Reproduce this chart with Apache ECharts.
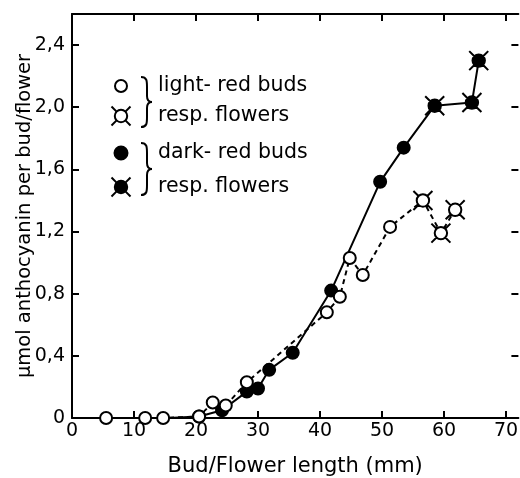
<!DOCTYPE html>
<html>
<head>
<meta charset="utf-8">
<script src="https://cdn.jsdelivr.net/npm/echarts@6/dist/echarts.min.js"></script>
<style>
html,body{margin:0;padding:0;background:#fff;}
#chart{width:520px;height:478px;}
</style>
</head>
<body>
<div id="chart"></div>
<script>
// ---- data ----
const xTickValues = [0, 10, 20, 30, 40, 50, 60, 70];
const yTickValues = [0, 0.4, 0.8, 1.2, 1.6, 2.0, 2.4];
const yTickLabels = ['0', '0,4', '0,8', '1,2', '1,6', '2,0', '2,4'];

const lightLength = [5.5, 11.8, 14.7, 20.5, 22.7, 24.8, 28.2, 41.1, 43.2, 44.8, 46.9, 51.3, 56.6, 59.5, 61.8];
const lightAnth   = [0, 0, 0, 0.01, 0.10, 0.08, 0.23, 0.68, 0.78, 1.03, 0.92, 1.23, 1.40, 1.19, 1.34];
const lightStage  = ['bud','bud','bud','bud','bud','bud','bud','bud','bud','bud','bud','bud','flower','flower','flower'];

const darkLength = [15.5, 20.5, 24.2, 28.2, 30.0, 31.8, 35.6, 41.8, 49.7, 53.5, 58.5, 64.5, 65.6];
const darkAnth   = [0, 0.01, 0.05, 0.17, 0.19, 0.31, 0.42, 0.82, 1.52, 1.74, 2.01, 2.03, 2.30];
const darkStage  = ['none','bud','bud','bud','bud','bud','bud','bud','bud','bud','flower','flower','flower'];

const legendLabels = ['light- red buds', 'resp. flowers', 'dark- red buds', 'resp. flowers'];

// ---- styling ----
const FONT = 'DejaVu Sans';
const FLOWER_PATH = 'M16,10 C16,13.314 13.314,16 10,16 C6.686,16 4,13.314 4,10 C4,6.686 6.686,4 10,4 C13.314,4 16,6.686 16,10 Z ' +
  'M14.243,14.243 L19.19,19.19 M5.757,5.757 L0.81,0.81 M14.243,5.757 L19.19,0.81 M5.757,14.243 L0.81,19.19';

function buildData(xs, ys, stages) {
  return xs.map((x, i) => {
    const st = stages[i];
    const item = { value: [x, ys[i]] };
    if (st === 'flower') { item.symbol = 'path://' + FLOWER_PATH; item.symbolSize = 19; }
    else if (st === 'none') { item.symbol = 'none'; }
    return item;
  });
}

const chart = echarts.init(document.getElementById('chart'), null, { renderer: 'canvas' });

const axisCommon = {
  axisLine: { show: true, onZero: false, lineStyle: { color: '#000', width: 2 } },
  axisTick: { show: true, inside: true, length: 7, lineStyle: { color: '#000', width: 2 } },
  splitLine: { show: false }
};

const legendRowsY = [86, 116, 153, 187];
const markerX = 121;
const graphics = [];
const ink = { stroke: '#000', lineWidth: 2, fill: null };
function flowerMarker(cx, cy, fill) {
  const a = 4.4, b = 9.5;
  graphics.push({ type: 'circle', shape: { cx: cx, cy: cy, r: 6.2 }, style: { fill: fill, stroke: '#000', lineWidth: 2 }, z: 100 });
  [[1,1],[1,-1],[-1,1],[-1,-1]].forEach(d => {
    graphics.push({ type: 'line', shape: { x1: cx + d[0]*a, y1: cy + d[1]*a, x2: cx + d[0]*b, y2: cy + d[1]*b }, style: { stroke: '#000', lineWidth: 2 }, z: 100 });
  });
}
graphics.push({ type: 'circle', shape: { cx: markerX, cy: legendRowsY[0], r: 6 }, style: { fill: '#fff', stroke: '#000', lineWidth: 2 }, z: 100 });
flowerMarker(markerX, legendRowsY[1], '#fff');
graphics.push({ type: 'circle', shape: { cx: markerX, cy: legendRowsY[2], r: 6.5 }, style: { fill: '#000', stroke: '#000', lineWidth: 2 }, z: 100 });
flowerMarker(markerX, legendRowsY[3], '#000');
// braces
function brace(top, bottom) {
  const mid = (top + bottom) / 2;
  const bz = (x1,y1,c1x,c1y,c2x,c2y,x2,y2) => graphics.push({ type: 'bezierCurve', shape: { x1: x1, y1: y1, cpx1: c1x, cpy1: c1y, cpx2: c2x, cpy2: c2y, x2: x2, y2: y2 }, style: ink, z: 100 });
  const ln = (x1,y1,x2,y2) => graphics.push({ type: 'line', shape: { x1: x1, y1: y1, x2: x2, y2: y2 }, style: ink, z: 100 });
  bz(141, top, 147, top, 147, top + 4, 147, top + 10);
  ln(147, top + 10, 147, mid - 6);
  bz(147, mid - 6, 147, mid - 2, 149, mid, 152, mid);
  bz(152, mid, 149, mid, 147, mid + 2, 147, mid + 6);
  ln(147, mid + 6, 147, bottom - 10);
  bz(147, bottom - 10, 147, bottom - 4, 147, bottom, 141, bottom);
}
brace(77, 127);
brace(143, 195);
// texts
legendLabels.forEach((t, i) => {
  graphics.push({ type: 'text', x: 158, y: legendRowsY[i], style: { text: t, font: '20.5px "' + FONT + '"', fill: '#000', verticalAlign: 'middle', align: 'left' }, z: 100 });
});

const option = {
  animation: false,
  backgroundColor: '#fff',
  textStyle: { fontFamily: FONT },
  grid: { left: 72, right: 1.6, top: 14, bottom: 60, containLabel: false, outerBoundsMode: 'none' },
  xAxis: [
    Object.assign({}, axisCommon, {
      type: 'value', position: 'bottom', min: 0, max: 72,
      name: 'Bud/Flower length (mm)', nameLocation: 'middle', nameGap: 38, nameMoveOverlap: false,
      nameTextStyle: { fontSize: 21, color: '#000', fontFamily: FONT },
      axisTick: Object.assign({}, axisCommon.axisTick, { customValues: xTickValues }),
      axisLabel: { customValues: xTickValues, fontSize: 19, color: '#000', margin: 4, fontFamily: FONT }
    }),
    Object.assign({}, axisCommon, {
      type: 'value', position: 'top', min: 0, max: 72,
      axisTick: Object.assign({}, axisCommon.axisTick, { customValues: xTickValues }),
      axisLabel: { show: false }
    })
  ],
  yAxis: [
    Object.assign({}, axisCommon, {
      type: 'value', position: 'left', min: 0, max: 2.6,
      name: 'µmol anthocyanin per bud/flower', nameLocation: 'middle', nameGap: 37, nameRotate: 90, nameMoveOverlap: false,
      nameTextStyle: { fontSize: 19.5, color: '#000', fontFamily: FONT },
      axisTick: Object.assign({}, axisCommon.axisTick, { customValues: yTickValues }),
      axisLabel: {
        customValues: yTickValues, fontSize: 19, color: '#000', margin: 7, fontFamily: FONT,
        formatter: function (v) { const i = yTickValues.findIndex(t => Math.abs(t - v) < 1e-6); return i >= 0 ? yTickLabels[i] : ''; }
      }
    }),
    Object.assign({}, axisCommon, {
      type: 'value', position: 'right', min: 0, max: 2.6,
      axisLine: { show: false, onZero: false },
      axisTick: Object.assign({}, axisCommon.axisTick, { customValues: yTickValues }),
      axisLabel: { show: false }
    })
  ],
  series: [
    {
      type: 'line', name: 'dark-red', xAxisIndex: 0, yAxisIndex: 0, z: 3,
      data: buildData(darkLength, darkAnth, darkStage),
      symbol: 'circle', symbolSize: 12, showAllSymbol: true,
      lineStyle: { color: '#000', width: 2, type: 'solid' },
      itemStyle: { color: '#000', borderColor: '#000', borderWidth: 2 },
      emphasis: { disabled: true }
    },
    {
      type: 'line', name: 'light-red', xAxisIndex: 0, yAxisIndex: 0, z: 4,
      data: buildData(lightLength, lightAnth, lightStage),
      symbol: 'circle', symbolSize: 12, showAllSymbol: true,
      lineStyle: { color: '#000', width: 2, type: [5, 4] },
      itemStyle: { color: '#fff', borderColor: '#000', borderWidth: 2 },
      emphasis: { disabled: true }
    }
  ],
  graphic: graphics
};
chart.setOption(option);
</script>
</body>
</html>
